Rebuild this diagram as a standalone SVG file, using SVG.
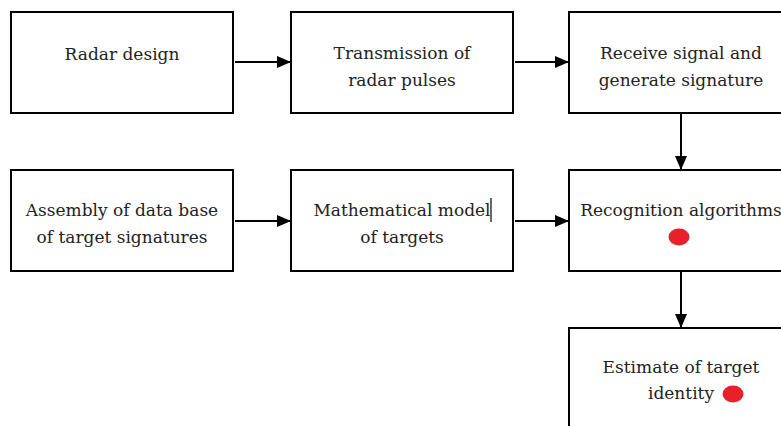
<svg xmlns="http://www.w3.org/2000/svg" width="781" height="426" viewBox="0 0 781 426">
<defs>
<marker id="ah" markerWidth="14" markerHeight="12" refX="13" refY="6" orient="auto" markerUnits="userSpaceOnUse">
<path d="M0,0 L14,6 L0,12 Z" fill="#000"/>
</marker>
<style>
.box{fill:#fff;stroke:#000;stroke-width:2}
.t{font-family:'DejaVu Serif',serif;font-size:17px;fill:#222;text-anchor:middle}
.c{stroke:#000;stroke-width:2;fill:none;marker-end:url(#ah)}
.dot{fill:#e8202a}
</style>
</defs>
<rect width="781" height="426" fill="#fff"/>
<g id="n1"><rect class="box" x="11" y="12" width="222" height="101"/><text class="t" x="122" y="60">Radar design</text></g>
<g id="n2"><rect class="box" x="291" y="12" width="222" height="101"/><text class="t" x="402" y="59">Transmission of</text><text class="t" x="402" y="86">radar pulses</text></g>
<g id="n3"><rect class="box" x="569" y="12" width="224" height="101"/><text class="t" x="681" y="59">Receive signal and</text><text class="t" x="681" y="86">generate signature</text></g>
<g id="n4"><rect class="box" x="11" y="170" width="222" height="101"/><text class="t" x="122" y="216">Assembly of data base</text><text class="t" x="122" y="243">of target signatures</text></g>
<g id="n5"><rect class="box" x="291" y="170" width="222" height="101"/><text class="t" x="402" y="216">Mathematical model</text><text class="t" x="402" y="243">of targets</text><line x1="491" y1="198" x2="491" y2="222" stroke="#000" stroke-width="1.2"/></g>
<g id="n6"><rect class="box" x="569" y="170" width="224" height="101"/><text class="t" x="681" y="216">Recognition algorithms</text><ellipse class="dot" cx="679" cy="237" rx="10.5" ry="8.5"/></g>
<g id="n7"><rect class="box" x="569" y="328" width="224" height="110"/><text class="t" x="681" y="373">Estimate of target</text><text class="t" x="681" y="399">identity</text><ellipse class="dot" cx="733" cy="394" rx="10.5" ry="8.5"/></g>
<g id="connectors">
<line class="c" x1="235" y1="62" x2="290" y2="62"/>
<line class="c" x1="515" y1="62" x2="568" y2="62"/>
<line class="c" x1="235" y1="221" x2="290" y2="221"/>
<line class="c" x1="515" y1="221" x2="568" y2="221"/>
<line class="c" x1="681" y1="114" x2="681" y2="169"/>
<line class="c" x1="681" y1="272" x2="681" y2="327"/>
</g>
</svg>
